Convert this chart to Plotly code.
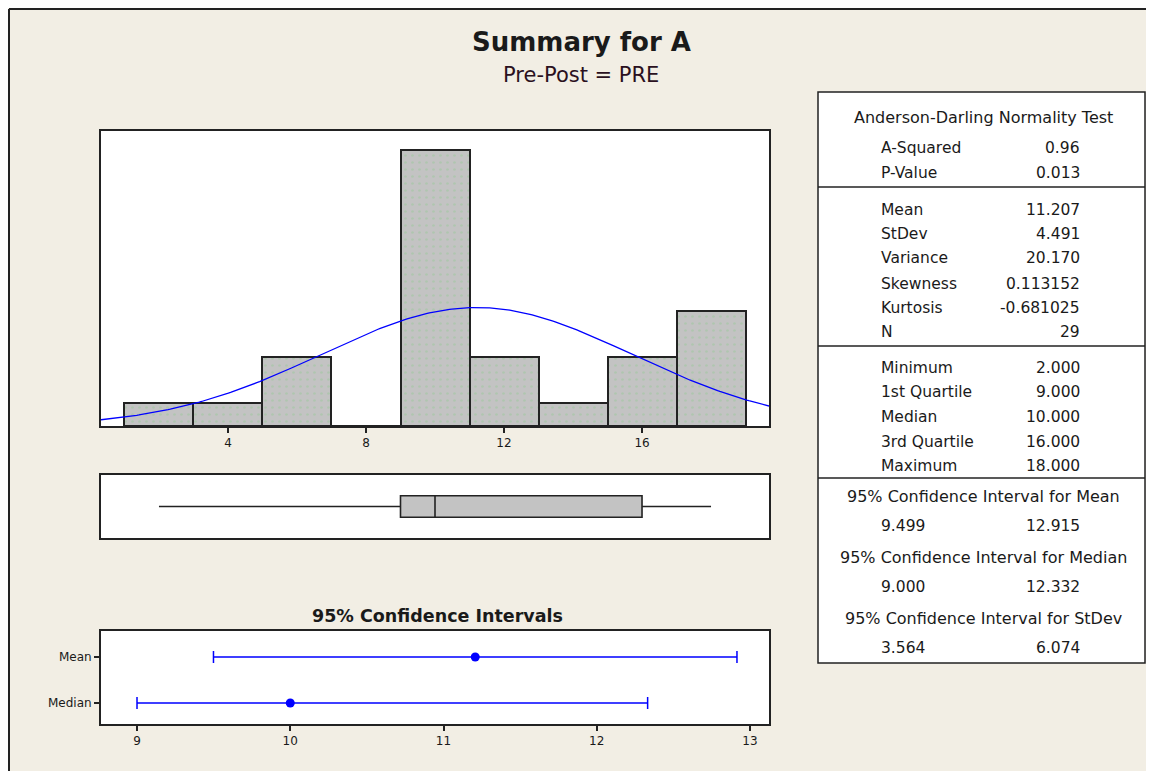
import numpy as np
import plotly.graph_objects as go

# page has an 8px body margin; figure is offset by it
OFF = 8
PAGE_W, PAGE_H = 1154, 771
W, H = PAGE_W - OFF, PAGE_H - OFF

# ---------------- data ----------------
bin_centers = [2, 4, 6, 8, 10, 12, 14, 16, 18]
bin_counts = [1, 1, 3, 0, 12, 3, 1, 3, 5]
bin_width = 2
n_obs = 29
mean_val = 11.207
sd_val = 4.491

box_min, box_q1, box_med, box_q3, box_max = 2.0, 9.0, 10.0, 16.0, 18.0

ci_labels = ["Mean", "Median"]
ci_point = [11.207, 10.0]
ci_low = [9.499, 9.0]
ci_high = [12.915, 12.332]

hist_ticks = [4, 8, 12, 16]
ci_ticks = [9, 10, 11, 12, 13]

stats_ad = [("A-Squared", "0.96"), ("P-Value", "0.013")]
stats_desc = [("Mean", "11.207"), ("StDev", "4.491"), ("Variance", "20.170"),
              ("Skewness", "0.113152"), ("Kurtosis", "-0.681025"), ("N", "29")]
stats_q = [("Minimum", "2.000"), ("1st Quartile", "9.000"), ("Median", "10.000"),
           ("3rd Quartile", "16.000"), ("Maximum", "18.000")]
ci_table = [("95% Confidence Interval for Mean", "9.499", "12.915"),
            ("95% Confidence Interval for Median", "9.000", "12.332"),
            ("95% Confidence Interval for StDev", "3.564", "6.074")]

FONT = "DejaVu Sans"
BG = "#F2EEE4"
INK = "#1a1a1a"


def px(x):
    return (x - OFF) / W


def py(y):
    return 1 - (y - OFF) / H


fig = go.Figure()

# histogram bars
fig.add_trace(go.Bar(
    x=bin_centers, y=bin_counts, width=bin_width,
    marker=dict(color="#C3C3C3", line=dict(color="#222222", width=2),
                pattern=dict(shape=".", fgcolor="#9CC89C", bgcolor="#C3C3C3",
                             size=7, solidity=0.12)),
    xaxis="x", yaxis="y", showlegend=False, hoverinfo="x+y"))

# normal fit curve
xs = np.linspace(0.32, 19.68, 300)
ys = n_obs * bin_width / (sd_val * np.sqrt(2 * np.pi)) * np.exp(-0.5 * ((xs - mean_val) / sd_val) ** 2)
fig.add_trace(go.Scatter(x=xs, y=ys, mode="lines", line=dict(color="#0000FF", width=1.3),
                         xaxis="x", yaxis="y", showlegend=False, hoverinfo="skip"))

# box plot
fig.add_trace(go.Box(
    y=[0], q1=[box_q1], median=[box_med], q3=[box_q3],
    lowerfence=[box_min], upperfence=[box_max], orientation="h",
    fillcolor="#C3C3C3", line=dict(color="#222222", width=1.6), whiskerwidth=0,
    width=0.34, xaxis="x2", yaxis="y2", showlegend=False, boxpoints=False))

# confidence intervals
ci_y = [2, 1]
fig.add_trace(go.Scatter(
    x=ci_point, y=ci_y, mode="markers",
    marker=dict(color="#0000FF", size=9),
    error_x=dict(type="data", symmetric=False,
                 array=[h - p for h, p in zip(ci_high, ci_point)],
                 arrayminus=[p - l for p, l in zip(ci_point, ci_low)],
                 color="#0000FF", thickness=1.5, width=6),
    xaxis="x3", yaxis="y3", showlegend=False))

axis_common = dict(showline=True, linecolor="#222222", linewidth=2, mirror=True,
                   showgrid=False, zeroline=False)
tickfont = dict(family=FONT, size=12, color=INK)

fig.update_layout(
    width=W, height=H,
    margin=dict(l=0, r=0, t=0, b=0),
    paper_bgcolor=BG, plot_bgcolor="white",
    font=dict(family=FONT, color=INK),
    xaxis=dict(domain=[px(101), px(769)], range=[0.32, 19.68], tickvals=hist_ticks,
               ticks="outside", ticklen=5, tickwidth=2, tickcolor="#222222", tickfont=tickfont,
               anchor="y", **axis_common),
    yaxis=dict(domain=[py(426), py(131)], range=[0, 12.83], showticklabels=False,
               ticks="", anchor="x", **axis_common),
    xaxis2=dict(domain=[px(101), px(769)], range=[0.32, 19.68], showticklabels=False,
                ticks="", anchor="y2", **axis_common),
    yaxis2=dict(domain=[py(538), py(475)], range=[-0.5, 0.5], showticklabels=False,
                ticks="", anchor="x2", **axis_common),
    xaxis3=dict(domain=[px(101), px(769)], range=[8.765, 13.124], tickvals=ci_ticks,
                ticks="outside", ticklen=5, tickwidth=2, tickcolor="#222222", tickfont=tickfont,
                anchor="y3", **axis_common),
    yaxis3=dict(domain=[py(724), py(631)], range=[0.543, 2.565], tickvals=ci_y,
                ticktext=ci_labels, ticks="outside", ticklen=5, tickwidth=2, tickcolor="#222222",
                tickfont=dict(family=FONT, size=12, color=INK), anchor="x3",
                **axis_common),
    bargap=0,
)

shapes = []
# frame on top/left edges of the panel
shapes.append(dict(type="line", xref="paper", yref="paper", x0=px(9), x1=px(1170),
                   y0=py(9), y1=py(9), line=dict(color="#222222", width=2)))
shapes.append(dict(type="line", xref="paper", yref="paper", x0=px(9), x1=px(9),
                   y0=py(9), y1=py(790), line=dict(color="#222222", width=2)))
# stats table box
shapes.append(dict(type="rect", xref="paper", yref="paper", x0=px(818), x1=px(1145),
                   y0=py(92), y1=py(663), fillcolor="white",
                   line=dict(color="#222222", width=1.5), layer="below"))
for yy in [187, 346, 478]:
    shapes.append(dict(type="line", xref="paper", yref="paper", x0=px(818), x1=px(1145),
                       y0=py(yy), y1=py(yy), line=dict(color="#222222", width=1.5)))
fig.update_layout(shapes=shapes)

ann = []


def text(x, y, s, size=15.5, xanchor="left", bold=False, color=INK):
    ann.append(dict(xref="paper", yref="paper", x=px(x), y=py(y), text=(f"<b>{s}</b>" if bold else s),
                    showarrow=False, xanchor=xanchor, yanchor="middle",
                    font=dict(family=FONT, size=size, color=color)))


text(581, 42, "Summary for A", size=26, xanchor="center", bold=True)
text(581, 75, "Pre-Post = PRE", size=21, xanchor="center", color="#2a1020")
text(437, 616, "95% Confidence Intervals", size=17.5, xanchor="center", bold=True)

LX, RX, CX = 879, 1082, 983
text(CX, 118, "Anderson-Darling Normality Test", size=16, xanchor="center")
for (lab, val), yy in zip(stats_ad, [148, 173]):
    text(LX, yy, lab)
    text(RX, yy, val, xanchor="right")
for (lab, val), yy in zip(stats_desc, [210, 234, 258, 284, 308, 332]):
    text(LX, yy, lab)
    text(RX, yy, val, xanchor="right")
for (lab, val), yy in zip(stats_q, [368, 392, 417, 442, 466]):
    text(LX, yy, lab)
    text(RX, yy, val, xanchor="right")
for (title, lo, hi), yy in zip(ci_table, [496, 557, 618]):
    text(CX, yy, title, size=16, xanchor="center")
    text(LX, yy + 30, lo)
    text(RX, yy + 30, hi, xanchor="right")

fig.update_layout(annotations=ann)

fig.write_html("out.html")
